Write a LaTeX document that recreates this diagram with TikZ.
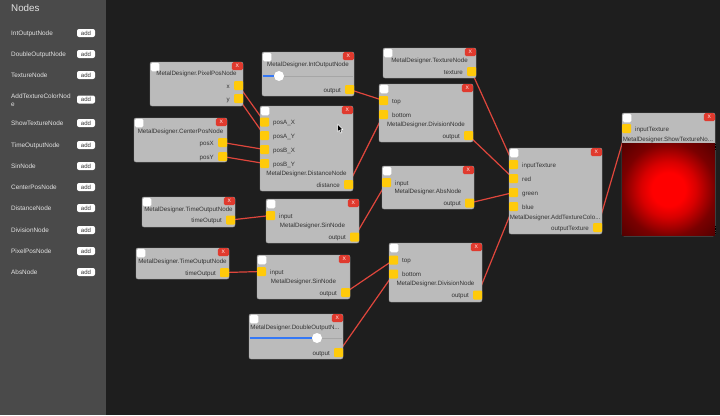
\documentclass[tikz,border=0pt]{standalone}
\usepackage{fontspec}
\setmainfont{Liberation Sans}
\usetikzlibrary{calc}
\definecolor{canvas}{HTML}{1E1E1E}
\definecolor{sidebar}{HTML}{4A4A4A}
\definecolor{sidetext}{HTML}{E2E2E2}
\definecolor{boxfill}{HTML}{BBBBBB}
\definecolor{boxedge}{HTML}{9C9C9C}
\definecolor{txt}{HTML}{333333}
\definecolor{portcol}{HTML}{FFCA0A}
\definecolor{closered}{HTML}{E03A2E}
\definecolor{wirecol}{HTML}{E0463C}
\definecolor{sliderblue}{HTML}{3478F6}
\definecolor{trackcol}{HTML}{A6A6A6}
\definecolor{glowin}{HTML}{FF0000}
\definecolor{glowa}{HTML}{D80000}
\definecolor{glowmid}{HTML}{7A0000}
\definecolor{glowout}{HTML}{500000}
\pgfdeclareradialshading{glow}{\pgfpoint{0bp}{0bp}}{color(0bp)=(glowin); color(9bp)=(glowin); color(15bp)=(glowa); color(25bp)=(glowmid); color(36bp)=(glowout); color(50bp)=(glowout)}
\pgfdeclarelayer{bg}
\pgfdeclarelayer{wires}
\pgfsetlayers{bg,wires,main}
\tikzset{
  box/.style={draw=boxedge, fill=boxfill, rounded corners=2pt, line width=0.4pt, inner sep=0pt, outer sep=0pt},
  port/.style={fill=portcol, rounded corners=1pt, minimum size=9pt, inner sep=0pt, outer sep=0pt},
  chk/.style={fill=white, rounded corners=1.5pt, minimum size=8.5pt, inner sep=0pt},
  closebtn/.style={fill=closered, rounded corners=1.5pt, minimum width=11pt, minimum height=8pt, inner sep=0pt, text=white, font=\fontsize{5}{5}\selectfont},
  lbl/.style={inner sep=0pt, text=txt, font=\fontsize{6.2}{7}\selectfont},
  sidelbl/.style={inner sep=0pt, text=sidetext, font=\fontsize{6.4}{7}\selectfont, anchor=mid west},
  addbtn/.style={fill=white, rounded corners=2pt, minimum width=18pt, minimum height=8pt, inner sep=0pt, text=txt, font=\fontsize{6}{6}\selectfont},
  wire/.style={draw=wirecol, line width=1.2pt},
  track/.style={draw=trackcol, line width=0.8pt},
  blueline/.style={draw=sliderblue, line width=1.2pt},
  knob/.style={circle, fill=white, minimum size=10pt, inner sep=0pt},
  grip/.style={draw=black, line width=0.7pt, dash pattern=on 0.8pt off 0.9pt}
}
\newcommand{\mdbox}[5]{%
  \node[box, minimum width=#4pt, minimum height=#5pt, anchor=north west] (#1) at (#2,#3) {};
  \node[chk, anchor=north west] (#1-chk) at ($(#1.north west)+(0.6,0.6)$) {};
  \node[closebtn, anchor=north east] (#1-x) at (#1.north east) {X};}
\newcommand{\inport}[4]{%
  \node[port, anchor=west] (#1) at (#2,#3) {};
  \node[lbl, anchor=mid west] (#1-t) at (#2+13,#3) {#4};}
\newcommand{\outport}[4]{%
  \node[port, anchor=east] (#1) at (#2,#3) {};
  \node[lbl, anchor=mid east] (#1-t) at (#2-13,#3) {#4};}
\begin{document}
\begin{tikzpicture}[x=1pt, y=-1pt]
\useasboundingbox (0,0) rectangle (720,415);
\begin{pgfonlayer}{bg}
  \fill[canvas] (0,0) rectangle (720,415);
  \fill[sidebar] (0,0) rectangle (106,415);
\end{pgfonlayer}

% sidebar
\node[inner sep=0pt, text=sidetext, font=\fontsize{9.8}{10}\selectfont, anchor=mid west] (sbtitle) at (11,8.5) {Nodes};
\node[sidelbl] (s1) at (11,33) {IntOutputNode};        \node[addbtn] (b1) at (86,33) {add};
\node[sidelbl] (s2) at (11,54) {DoubleOutputNode};     \node[addbtn] (b2) at (86,54) {add};
\node[sidelbl] (s3) at (11,75) {TextureNode};          \node[addbtn] (b3) at (86,75) {add};
\node[sidelbl] (s4) at (11,96) {AddTextureColorNod};
\node[sidelbl] (s4b) at (11,104) {e};                  \node[addbtn] (b4) at (86,99.5) {add};
\node[sidelbl] (s5) at (11,123) {ShowTextureNode};     \node[addbtn] (b5) at (86,123) {add};
\node[sidelbl] (s6) at (11,145) {TimeOutputNode};      \node[addbtn] (b6) at (86,145) {add};
\node[sidelbl] (s7) at (11,166) {SinNode};             \node[addbtn] (b7) at (86,166) {add};
\node[sidelbl] (s8) at (11,187) {CenterPosNode};       \node[addbtn] (b8) at (86,187) {add};
\node[sidelbl] (s9) at (11,208) {DistanceNode};        \node[addbtn] (b9) at (86,208) {add};
\node[sidelbl] (s10) at (11,230) {DivisionNode};       \node[addbtn] (b10) at (86,230) {add};
\node[sidelbl] (s11) at (11,251) {PixelPosNode};       \node[addbtn] (b11) at (86,251) {add};
\node[sidelbl] (s12) at (11,272) {AbsNode};            \node[addbtn] (b12) at (86,272) {add};

% PixelPosNode
\mdbox{pix}{150}{62}{93}{44}
\node[lbl] (pix-title) at (196.5,74) {MetalDesigner.PixelPosNode};
\outport{pix-x}{243}{85.5}{x}
\outport{pix-y}{243}{98.5}{y}

% IntOutputNode
\mdbox{int}{262}{52}{92}{44}
\node[lbl] (int-title) at (308,65) {MetalDesigner.IntOutputNode};
\coordinate (int-t0) at (262.5,76);
\coordinate (int-t1) at (353,76);
\draw[track] (int-t0) -- (int-t1);
\node[knob] (int-knob) at (279,76) {};
\draw[blueline] (int-t0) -- (int-knob.west);
\outport{int-out}{354}{89.5}{output}

% DistanceNode
\mdbox{dist}{260}{106}{93}{85}
\inport{dist-ax}{260}{122}{posA\_X}
\inport{dist-ay}{260}{135.5}{posA\_Y}
\inport{dist-bx}{260}{149.5}{posB\_X}
\inport{dist-by}{260}{163.5}{posB\_Y}
\node[lbl] (dist-title) at (306.5,174) {MetalDesigner.DistanceNode};
\outport{dist-out}{353}{184.5}{distance}

% CenterPosNode
\mdbox{cen}{134}{118}{93}{44}
\node[lbl] (cen-title) at (180.5,132) {MetalDesigner.CenterPosNode};
\outport{cen-x}{227}{142.5}{posX}
\outport{cen-y}{227}{156.5}{posY}

% TextureNode
\mdbox{tex}{383}{48}{93}{30}
\node[lbl] (tex-title) at (429.5,61) {MetalDesigner.TextureNode};
\outport{tex-out}{476}{71.5}{texture}

% DivisionNode 1
\mdbox{div1}{379}{84}{94}{58}
\inport{div1-top}{379}{100.5}{top}
\inport{div1-bot}{379}{114.5}{bottom}
\node[lbl] (div1-title) at (426,125) {MetalDesigner.DivisionNode};
\outport{div1-out}{473}{135.5}{output}

% AbsNode
\mdbox{abs}{382}{166}{92}{43}
\inport{abs-in}{382}{182.5}{input}
\node[lbl] (abs-title) at (428,192) {MetalDesigner.AbsNode};
\outport{abs-out}{474}{203}{output}

% AddTextureColorNode
\mdbox{add}{509}{148}{93}{86}
\inport{add-in}{509}{164.5}{inputTexture}
\inport{add-r}{509}{178.5}{red}
\inport{add-g}{509}{192.5}{green}
\inport{add-b}{509}{206.5}{blue}
\node[lbl, anchor=mid west] (add-title) at (509.6,217) {MetalDesigner.AddTextureColo...};
\outport{add-out}{602}{227.5}{outputTexture}

% ShowTextureNode
\mdbox{show}{622}{113}{93}{123}
\shade[shading=glow] (622.2,143) rectangle (714.8,235.8);
\inport{show-in}{622}{128.5}{inputTexture}
\node[lbl, anchor=mid west] (show-title) at (622.6,139) {MetalDesigner.ShowTextureNo...};
\coordinate (grip1a) at (715,144);
\coordinate (grip1b) at (715,150);
\coordinate (grip2a) at (715,226);
\coordinate (grip2b) at (715,234);
\draw[grip] (grip1a) -- (grip1b);
\draw[grip] (grip2a) -- (grip2b);

% TimeOutputNode 1
\mdbox{t1}{142}{197}{93}{30}
\node[lbl] (t1-title) at (188.5,210) {MetalDesigner.TimeOutputNode};
\outport{t1-out}{235}{220}{timeOutput}

% SinNode 1
\mdbox{sin1}{266}{199}{93}{44}
\inport{sin1-in}{266}{215.5}{input}
\node[lbl] (sin1-title) at (312.5,226) {MetalDesigner.SinNode};
\outport{sin1-out}{359}{237}{output}

% TimeOutputNode 2
\mdbox{t2}{136}{248}{93}{31}
\node[lbl] (t2-title) at (182.5,262) {MetalDesigner.TimeOutputNode};
\outport{t2-out}{229}{272.5}{timeOutput}

% SinNode 2
\mdbox{sin2}{257}{255}{93}{44}
\inport{sin2-in}{257}{271.5}{input}
\node[lbl] (sin2-title) at (303.5,282) {MetalDesigner.SinNode};
\outport{sin2-out}{350}{292.5}{output}

% DivisionNode 2
\mdbox{div2}{389}{243}{93}{59}
\inport{div2-top}{389}{260}{top}
\inport{div2-bot}{389}{274}{bottom}
\node[lbl] (div2-title) at (435.5,284) {MetalDesigner.DivisionNode};
\outport{div2-out}{482}{295}{output}

% DoubleOutputNode
\mdbox{dbl}{249}{314}{94}{45}
\node[lbl, anchor=mid west] (dbl-title) at (250.2,327) {MetalDesigner.DoubleOutputN...};
\coordinate (dbl-t0) at (249.5,338);
\coordinate (dbl-t1) at (342,338);
\draw[track] (dbl-t0) -- (dbl-t1);
\node[knob] (dbl-knob) at (317,338) {};
\draw[blueline] (dbl-t0) -- (dbl-knob.west);
\outport{dbl-out}{343}{352.5}{output}

% mouse cursor
\draw[fill=black, draw=white, line width=0.5pt, line join=round] (337.5,124) -- (337.5,132) -- (339.3,130.3) -- (340.6,133.2) -- (341.9,132.6) -- (340.6,129.8) -- (343,129.6) -- cycle;

% connectors
\begin{pgfonlayer}{wires}
  \draw[wire] (pix-x.center) -- (dist-ax.center);
  \draw[wire] (pix-y.center) -- (dist-ay.center);
  \draw[wire] (cen-x.center) -- (dist-bx.center);
  \draw[wire] (cen-y.center) -- (dist-by.center);
  \draw[wire] (int-out.center) -- (div1-top.center);
  \draw[wire] (dist-out.center) -- (div1-bot.center);
  \draw[wire] (tex-out.center) -- (add-in.center);
  \draw[wire] (div1-out.center) -- (add-r.center);
  \draw[wire] (abs-out.center) -- (add-g.center);
  \draw[wire] (div2-out.center) -- (add-b.center);
  \draw[wire] (t1-out.center) -- (sin1-in.center);
  \draw[wire] (sin1-out.center) -- (abs-in.center);
  \draw[wire] (t2-out.center) -- (sin2-in.center);
  \draw[wire] (sin2-out.center) -- (div2-top.center);
  \draw[wire] (dbl-out.center) -- (div2-bot.center);
  \draw[wire] (add-out.center) -- (show-in.center);
\end{pgfonlayer}
\end{tikzpicture}
\end{document}
